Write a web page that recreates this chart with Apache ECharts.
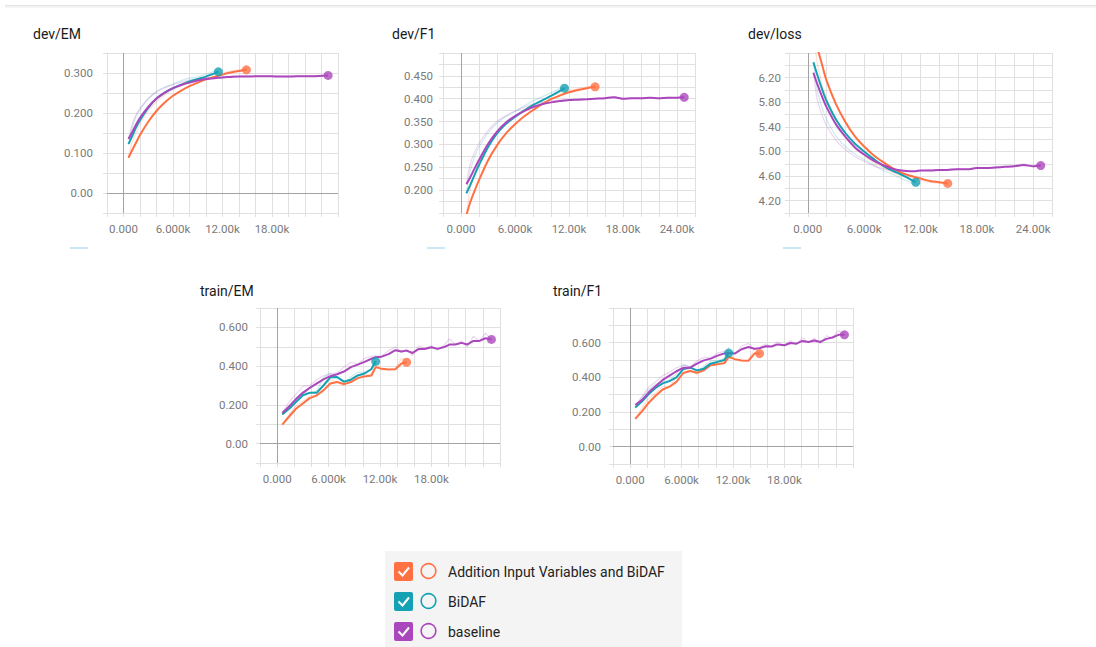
<!DOCTYPE html>
<html><head><meta charset="utf-8">
<script src="https://cdn.jsdelivr.net/npm/echarts@6/dist/echarts.min.js"></script>
<style>html,body{margin:0;padding:0;background:#fff;}#c{width:1096px;height:647px;}</style>
</head><body><div id="c"></div>
<script>
// ---------- data ----------
const runNames = ['Addition Input Variables and BiDAF', 'BiDAF', 'baseline'];
const runColors = ['#ff7043', '#15a1b4', '#ab47bc'];

const devSteps = [600, 1000, 1500, 2000, 3000, 4000, 5000, 6000, 7000, 8000, 9000, 10000, 11000, 11500, 12000, 13000, 14000, 14900, 16000, 17000, 18000, 19000, 20000, 21000, 22000, 23000, 24000, 24800];
const trainSteps = [600, 1400, 2200, 3000, 3800, 4600, 5400, 6200, 7000, 7800, 8600, 9400, 10200, 11000, 11500, 12200, 13000, 13800, 14500, 15100, 15800, 16500, 17200, 18000, 18700, 19400, 20100, 20800, 21500, 22200, 22900, 23600, 24300, 25000];

// dev/EM
const devEmOrange = [0.088, 0.105, 0.125, 0.145, 0.178, 0.205, 0.226, 0.243, 0.256, 0.267, 0.276, 0.284, 0.290, 0.293, 0.296, 0.301, 0.305, 0.308];
const devEmTeal = [0.122, 0.140, 0.163, 0.182, 0.213, 0.236, 0.251, 0.262, 0.271, 0.279, 0.285, 0.291, 0.299, 0.303];
const devEmPurple = [0.135, 0.150, 0.170, 0.188, 0.215, 0.236, 0.251, 0.262, 0.270, 0.276, 0.281, 0.285, 0.287, 0.288, 0.289, 0.290, 0.291, 0.291, 0.292, 0.292, 0.292, 0.291, 0.291, 0.292, 0.292, 0.292, 0.293, 0.294];
const devEmOrangeRaw = [0.088, 0.125, 0.150, 0.172, 0.205, 0.228, 0.245, 0.258, 0.268, 0.277, 0.284, 0.291, 0.295, 0.298, 0.300, 0.305, 0.308, 0.310];
const devEmTealRaw = [0.122, 0.160, 0.190, 0.208, 0.236, 0.254, 0.265, 0.272, 0.281, 0.287, 0.290, 0.297, 0.304, 0.306];
const devEmPurpleRaw = [0.135, 0.168, 0.195, 0.212, 0.236, 0.252, 0.263, 0.271, 0.277, 0.282, 0.285, 0.288, 0.289, 0.290, 0.291, 0.292, 0.292, 0.293, 0.292, 0.293, 0.291, 0.292, 0.291, 0.293, 0.292, 0.293, 0.294, 0.294];

// dev/F1
const devF1Orange = [0.145, 0.172, 0.198, 0.222, 0.265, 0.298, 0.324, 0.344, 0.361, 0.375, 0.388, 0.399, 0.407, 0.411, 0.414, 0.419, 0.423, 0.426];
const devF1Teal = [0.193, 0.210, 0.233, 0.255, 0.294, 0.324, 0.345, 0.360, 0.374, 0.386, 0.396, 0.406, 0.417, 0.423];
const devF1Purple = [0.213, 0.227, 0.247, 0.266, 0.301, 0.328, 0.348, 0.362, 0.373, 0.382, 0.388, 0.392, 0.395, 0.396, 0.397, 0.398, 0.399, 0.400, 0.401, 0.403, 0.400, 0.401, 0.401, 0.402, 0.401, 0.402, 0.402, 0.403];
const devF1OrangeRaw = [0.145, 0.200, 0.235, 0.262, 0.298, 0.325, 0.345, 0.360, 0.374, 0.386, 0.397, 0.406, 0.413, 0.415, 0.418, 0.422, 0.426, 0.428];
const devF1TealRaw = [0.193, 0.240, 0.272, 0.295, 0.325, 0.346, 0.361, 0.372, 0.384, 0.395, 0.404, 0.413, 0.422, 0.425];
const devF1PurpleRaw = [0.213, 0.255, 0.283, 0.302, 0.330, 0.350, 0.363, 0.373, 0.381, 0.388, 0.392, 0.395, 0.397, 0.398, 0.398, 0.399, 0.400, 0.401, 0.402, 0.405, 0.398, 0.402, 0.400, 0.403, 0.400, 0.403, 0.402, 0.403];

// dev/loss
const devLossOrange = [6.95, 6.70, 6.42, 6.15, 5.77, 5.48, 5.25, 5.08, 4.94, 4.83, 4.73, 4.65, 4.60, 4.58, 4.56, 4.52, 4.50, 4.48];
const devLossTeal = [6.45, 6.25, 6.02, 5.82, 5.52, 5.30, 5.13, 5.00, 4.88, 4.77, 4.69, 4.62, 4.54, 4.50];
const devLossPurple = [6.28, 6.10, 5.90, 5.72, 5.44, 5.24, 5.07, 4.95, 4.85, 4.78, 4.72, 4.69, 4.68, 4.68, 4.69, 4.69, 4.70, 4.70, 4.71, 4.71, 4.73, 4.73, 4.74, 4.75, 4.76, 4.78, 4.76, 4.77];
const devLossOrangeRaw = [6.95, 6.45, 6.10, 5.85, 5.45, 5.22, 5.05, 4.93, 4.82, 4.74, 4.66, 4.60, 4.57, 4.55, 4.53, 4.50, 4.48, 4.47];
const devLossTealRaw = [6.45, 6.00, 5.72, 5.52, 5.25, 5.08, 4.96, 4.87, 4.78, 4.69, 4.63, 4.56, 4.49, 4.47];
const devLossPurpleRaw = [6.28, 5.85, 5.60, 5.42, 5.18, 5.03, 4.92, 4.84, 4.77, 4.72, 4.68, 4.67, 4.67, 4.68, 4.69, 4.70, 4.70, 4.71, 4.72, 4.71, 4.74, 4.73, 4.75, 4.76, 4.77, 4.80, 4.75, 4.77];

// train/EM
const trainEmOrange = [0.098, 0.140, 0.180, 0.207, 0.235, 0.248, 0.275, 0.310, 0.318, 0.307, 0.318, 0.338, 0.347, 0.352, 0.395, 0.386, 0.382, 0.384, 0.414, 0.420];
const trainEmTeal = [0.150, 0.180, 0.215, 0.250, 0.262, 0.262, 0.300, 0.342, 0.344, 0.320, 0.330, 0.352, 0.362, 0.385, 0.424];
const trainEmPurple = [0.158, 0.192, 0.230, 0.262, 0.288, 0.310, 0.332, 0.348, 0.358, 0.372, 0.395, 0.408, 0.422, 0.438, 0.446, 0.449, 0.462, 0.482, 0.475, 0.480, 0.468, 0.488, 0.488, 0.497, 0.489, 0.497, 0.511, 0.512, 0.520, 0.512, 0.530, 0.530, 0.544, 0.538];
const trainEmOrangeRaw = [0.098, 0.150, 0.195, 0.218, 0.245, 0.252, 0.300, 0.330, 0.318, 0.298, 0.332, 0.350, 0.352, 0.360, 0.420, 0.380, 0.385, 0.390, 0.440, 0.428];
const trainEmTealRaw = [0.150, 0.195, 0.235, 0.270, 0.262, 0.270, 0.340, 0.365, 0.338, 0.312, 0.345, 0.368, 0.370, 0.380, 0.455];
const trainEmPurpleRaw = [0.158, 0.215, 0.255, 0.295, 0.300, 0.330, 0.350, 0.360, 0.365, 0.395, 0.420, 0.410, 0.440, 0.452, 0.452, 0.452, 0.480, 0.500, 0.470, 0.488, 0.455, 0.505, 0.492, 0.505, 0.482, 0.505, 0.540, 0.512, 0.530, 0.500, 0.555, 0.528, 0.570, 0.532];

// train/F1
const trainF1Orange = [0.160, 0.205, 0.255, 0.295, 0.330, 0.346, 0.374, 0.425, 0.437, 0.426, 0.441, 0.470, 0.475, 0.482, 0.518, 0.505, 0.497, 0.495, 0.537, 0.537];
const trainF1Teal = [0.226, 0.262, 0.305, 0.340, 0.365, 0.378, 0.400, 0.448, 0.456, 0.440, 0.450, 0.479, 0.489, 0.500, 0.540];
const trainF1Purple = [0.240, 0.270, 0.315, 0.350, 0.385, 0.410, 0.435, 0.455, 0.456, 0.479, 0.498, 0.508, 0.525, 0.538, 0.540, 0.537, 0.562, 0.575, 0.565, 0.568, 0.579, 0.578, 0.590, 0.585, 0.598, 0.594, 0.610, 0.604, 0.613, 0.604, 0.622, 0.630, 0.645, 0.645];
const trainF1OrangeRaw = [0.160, 0.225, 0.280, 0.310, 0.348, 0.350, 0.400, 0.450, 0.440, 0.418, 0.455, 0.485, 0.478, 0.490, 0.550, 0.500, 0.495, 0.498, 0.565, 0.545];
const trainF1TealRaw = [0.226, 0.285, 0.330, 0.360, 0.375, 0.385, 0.420, 0.475, 0.460, 0.430, 0.465, 0.495, 0.495, 0.510, 0.575];
const trainF1PurpleRaw = [0.240, 0.290, 0.345, 0.375, 0.410, 0.430, 0.455, 0.470, 0.460, 0.495, 0.515, 0.512, 0.540, 0.550, 0.545, 0.535, 0.580, 0.595, 0.560, 0.572, 0.592, 0.578, 0.605, 0.582, 0.612, 0.590, 0.628, 0.600, 0.625, 0.595, 0.640, 0.628, 0.670, 0.648];

// tick labels
const xTickValues = [0, 6000, 12000, 18000, 24000];
const xTickLabels = ['0.000', '6.000k', '12.00k', '18.00k', '24.00k'];
const devEmYTicks = [0, 0.1, 0.2, 0.3];
const devEmYLabels = ['0.00', '0.100', '0.200', '0.300'];
const devF1YTicks = [0.2, 0.25, 0.3, 0.35, 0.4, 0.45];
const devF1YLabels = ['0.200', '0.250', '0.300', '0.350', '0.400', '0.450'];
const devLossYTicks = [4.2, 4.6, 5.0, 5.4, 5.8, 6.2];
const devLossYLabels = ['4.20', '4.60', '5.00', '5.40', '5.80', '6.20'];
const trainYTicks = [0, 0.2, 0.4, 0.6];
const trainYLabels = ['0.00', '0.200', '0.400', '0.600'];

// ---------- layout ----------
const FONT = 'Roboto, "Noto Sans", sans-serif';
const GRID_COLOR = '#e0e0e0';
const ZERO_COLOR = '#a3a3a3';
const LABEL_COLOR = '#7a7a7a';

const charts = [
  { title: 'dev/EM', tx: 33, ty: 27, steps: devSteps, smooth: [devEmOrange, devEmTeal, devEmPurple], raw: [devEmOrangeRaw, devEmTealRaw, devEmPurpleRaw],
    grid: { left: 107, top: 53, width: 231, height: 160 }, yMin: -0.05, yMax: 0.35, yInt: 0.05, yTicks: devEmYTicks, yLabels: devEmYLabels, xLabelN: 4, zeroY: true, curve: 0.3, ym: 14 },
  { title: 'dev/F1', tx: 392, ty: 27, steps: devSteps, smooth: [devF1Orange, devF1Teal, devF1Purple], raw: [devF1OrangeRaw, devF1TealRaw, devF1PurpleRaw],
    grid: { left: 443, top: 53, width: 252, height: 160 }, yMin: 0.15, yMax: 0.5, yInt: 0.025, yTicks: devF1YTicks, yLabels: devF1YLabels, xLabelN: 5, zeroY: false, curve: 0.3, ym: 10 },
  { title: 'dev/loss', tx: 748, ty: 27, steps: devSteps, smooth: [devLossOrange, devLossTeal, devLossPurple], raw: [devLossOrangeRaw, devLossTealRaw, devLossPurpleRaw],
    grid: { left: 789, top: 53, width: 263, height: 160 }, yMin: 4.0, yMax: 6.6, yInt: 0.2, yTicks: devLossYTicks, yLabels: devLossYLabels, xLabelN: 5, zeroY: false, curve: 0.3, ym: 8 },
  { title: 'train/EM', tx: 200, ty: 284, steps: trainSteps, smooth: [trainEmOrange, trainEmTeal, trainEmPurple], raw: [trainEmOrangeRaw, trainEmTealRaw, trainEmPurpleRaw],
    grid: { left: 260, top: 308, width: 240, height: 155 }, yMin: -0.1, yMax: 0.7, yInt: 0.1, yTicks: trainYTicks, yLabels: trainYLabels, xLabelN: 4, zeroY: true, curve: false, ym: 12 },
  { title: 'train/F1', tx: 553, ty: 284, steps: trainSteps, smooth: [trainF1Orange, trainF1Teal, trainF1Purple], raw: [trainF1OrangeRaw, trainF1TealRaw, trainF1PurpleRaw],
    grid: { left: 613, top: 308, width: 240, height: 156 }, yMin: -0.1, yMax: 0.8, yInt: 0.1, yTicks: trainYTicks, yLabels: trainYLabels, xLabelN: 4, zeroY: true, curve: false, ym: 12 }
];

function pairs(steps, vals) { return vals.map((v, i) => [steps[i], v]); }
function labelFmt(vals, labels) {
  return function (v) {
    for (let i = 0; i < vals.length; i++) if (Math.abs(v - vals[i]) < 1e-6) return labels[i];
    return '';
  };
}

const grids = [], xAxes = [], yAxes = [], series = [], graphics = [];

charts.forEach((c, gi) => {
  grids.push(Object.assign({ containLabel: false }, c.grid));
  xAxes.push({
    type: 'value', gridIndex: gi, min: -2000, max: 26000, interval: 2000,
    axisLine: { show: true, onZero: false, lineStyle: { color: GRID_COLOR } },
    axisTick: { show: true, length: 4, lineStyle: { color: GRID_COLOR } },
    splitLine: { show: true, lineStyle: { color: GRID_COLOR, width: 1 } },
    axisLabel: { margin: 10, color: LABEL_COLOR, fontSize: 11.5, fontFamily: FONT,
      formatter: labelFmt(xTickValues.slice(0, c.xLabelN), xTickLabels.slice(0, c.xLabelN)) }
  });
  yAxes.push({
    type: 'value', gridIndex: gi, min: c.yMin, max: c.yMax, interval: c.yInt,
    axisLine: { show: true, onZero: false, lineStyle: { color: GRID_COLOR } },
    axisTick: { show: true, length: 4, lineStyle: { color: GRID_COLOR } },
    splitLine: { show: true, lineStyle: { color: GRID_COLOR, width: 1 } },
    axisLabel: { margin: c.ym, color: LABEL_COLOR, fontSize: 11.5, fontFamily: FONT,
      formatter: labelFmt(c.yTicks, c.yLabels) }
  });
  // zero lines
  const zl = [{ xAxis: 0 }];
  if (c.zeroY) zl.push({ yAxis: 0 });
  series.push({
    type: 'line', xAxisIndex: gi, yAxisIndex: gi, data: [[0, c.yMin]], symbol: 'none', silent: true, z: 1,
    lineStyle: { opacity: 0 },
    markLine: { silent: true, symbol: 'none', animation: false, label: { show: false },
      lineStyle: { color: ZERO_COLOR, width: 1, type: 'solid' }, emphasis: { disabled: true }, data: zl }
  });
  // raw (faint) lines
  c.raw.forEach((vals, ri) => {
    series.push({
      type: 'line', name: runNames[ri] + ' raw', xAxisIndex: gi, yAxisIndex: gi, data: pairs(c.steps, vals),
      symbol: 'none', smooth: c.curve, silent: true, z: 2,
      lineStyle: { color: runColors[ri], width: 1.2, opacity: 0.22 }
    });
  });
  // smoothed lines
  c.smooth.forEach((vals, ri) => {
    series.push({
      type: 'line', name: runNames[ri], xAxisIndex: gi, yAxisIndex: gi, data: pairs(c.steps, vals),
      symbol: 'none', smooth: c.curve, silent: true, z: 3,
      lineStyle: { color: runColors[ri], width: 2 }
    });
    const last = pairs(c.steps, vals).slice(-1);
    series.push({
      type: 'scatter', xAxisIndex: gi, yAxisIndex: gi, data: last, symbol: 'circle', symbolSize: 9, silent: true, z: 4,
      itemStyle: { color: runColors[ri] }
    });
  });
  graphics.push({ type: 'text', left: c.tx, top: c.ty, style: { text: c.title, font: '14px ' + FONT, fill: '#1a1a1a' } });
});

// decorations
graphics.push({ type: 'rect', shape: { x: 5, y: 5, width: 1091, height: 1.5 }, style: { fill: '#e4e4e4' } });
graphics.push({ type: 'rect', shape: { x: 5, y: 6.5, width: 1091, height: 1.5 }, style: { fill: '#f4f4f4' } });
[70, 427, 783].forEach(x => graphics.push({ type: 'rect', shape: { x: x, y: 247, width: 18, height: 2 }, style: { fill: '#cbe7f5' } }));

// legend panel
graphics.push({ type: 'rect', shape: { x: 385, y: 551, width: 297, height: 96 }, style: { fill: '#f4f4f4' } });
runNames.forEach((name, i) => {
  const y0 = 562 + i * 30;
  graphics.push({ type: 'rect', shape: { x: 394, y: y0, width: 19, height: 19, r: 2 }, style: { fill: runColors[i] } });
  graphics.push({ type: 'polyline', shape: { points: [[398.5, y0 + 9.5], [402.5, y0 + 13.5], [409, y0 + 5.5]] },
    style: { stroke: '#fff', lineWidth: 2, fill: null } });
  graphics.push({ type: 'circle', shape: { cx: 428.5, cy: y0 + 9, r: 7.3 }, style: { stroke: runColors[i], lineWidth: 1.6, fill: null } });
  graphics.push({ type: 'text', x: 448, y: y0 + 9.5, style: { text: name, font: '14px ' + FONT, fill: '#222', verticalAlign: 'middle', textVerticalAlign: 'middle' } });
});

const chart = echarts.init(document.getElementById('c'), null, { renderer: 'svg' });
chart.setOption({
  animation: false,
  backgroundColor: '#fff',
  grid: grids, xAxis: xAxes, yAxis: yAxes, series: series, graphic: graphics
});
</script></body></html>
